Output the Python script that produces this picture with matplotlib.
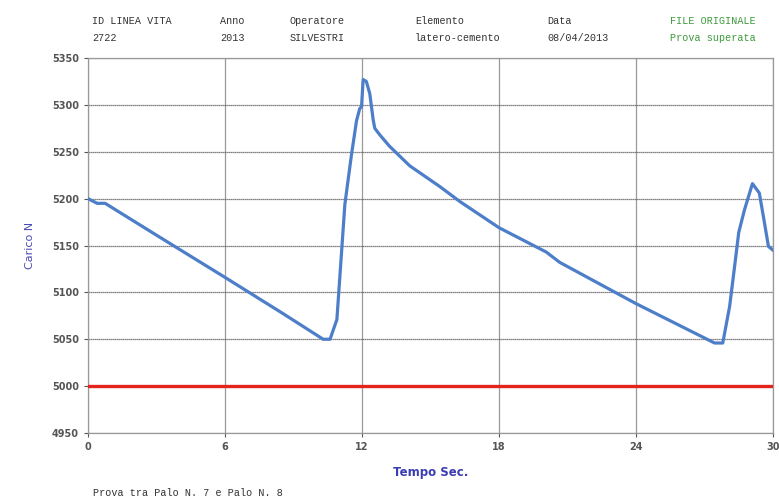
import matplotlib.pyplot as plt

# Curve: time (s) and load (N)
tempo = [0.0, 0.4, 0.75, 3.0, 6.0, 8.5, 10.3, 10.6, 10.9, 11.25, 11.54, 11.76,
         11.9, 11.98, 12.05, 12.19, 12.34, 12.49, 12.56, 12.78, 13.2, 14.09,
         15.4, 16.28, 18.0, 20.07, 20.66, 24.0, 27.44, 27.8, 28.1, 28.3, 28.5,
         28.75, 29.1, 29.4, 29.6, 29.8, 30.0]
carico = [5200, 5195, 5195, 5161, 5116, 5078, 5050, 5050, 5071, 5194, 5247, 5283,
          5296, 5298, 5327, 5325, 5312, 5284, 5275, 5268, 5256, 5235,
          5213, 5197, 5169, 5143, 5132, 5088, 5046, 5046, 5085, 5124, 5164,
          5188, 5216, 5206, 5178, 5149, 5145]
soglia = 5000

x_ticks = [0, 6, 12, 18, 24, 30]
y_ticks = [4950, 5000, 5050, 5100, 5150, 5200, 5250, 5300, 5350]

header_cols = [
    ('ID LINEA VITA', '2722'),
    ('Anno', '2013'),
    ('Operatore', 'SILVESTRI'),
    ('Elemento', 'latero-cemento'),
    ('Data', '08/04/2013'),
    ('FILE ORIGINALE', 'Prova superata'),
]
header_x = [92, 220, 290, 415, 547, 670]

fig = plt.figure(figsize=(7.79, 4.99), dpi=100)
ax = fig.add_axes([88 / 779, 1 - 433 / 499, (773 - 88) / 779, (433 - 58) / 499])

ax.plot(tempo, carico, color='#4d7ec9', lw=2.3, zorder=3)
ax.axhline(soglia, color='#e3231c', lw=2.4, zorder=3)

ax.set_xlim(0, 30)
ax.set_ylim(4950, 5350)
ax.set_xticks(x_ticks)
ax.set_yticks(y_ticks)
ax.tick_params(labelsize=7, colors='#555555', length=3)
for lab in ax.get_xticklabels() + ax.get_yticklabels():
    lab.set_fontweight('bold')

ax.xaxis.grid(True, color='#999999', lw=0.9)
ax.yaxis.grid(True, color='#5a5a5a', lw=0.9, ls=(0, (1, 0.6)))
for s in ax.spines.values():
    s.set_color('#999999')
    s.set_linewidth(0.9)

ax.set_xlabel('Tempo Sec.', color='#3b3db0', fontsize=8.5, fontweight='bold', labelpad=10)
ax.set_ylabel('Carico N', color='#4a4ab8', fontsize=8, labelpad=12)

for (top, bottom), xp in zip(header_cols, header_x):
    c = '#3c9a3c' if top == 'FILE ORIGINALE' else '#333333'
    fig.text(xp / 779, 1 - 21 / 499, top, fontsize=7.3, family='Liberation Mono',
             color=c, va='center')
    fig.text(xp / 779, 1 - 38 / 499, bottom, fontsize=7.3, family='Liberation Mono',
             color=c, va='center')

fig.text(93 / 779, 1 - 493 / 499, 'Prova tra Palo N. 7 e Palo N. 8', fontsize=7.3,
         family='Liberation Mono', color='#333333', va='center')

fig.savefig('out.png', dpi=100)
